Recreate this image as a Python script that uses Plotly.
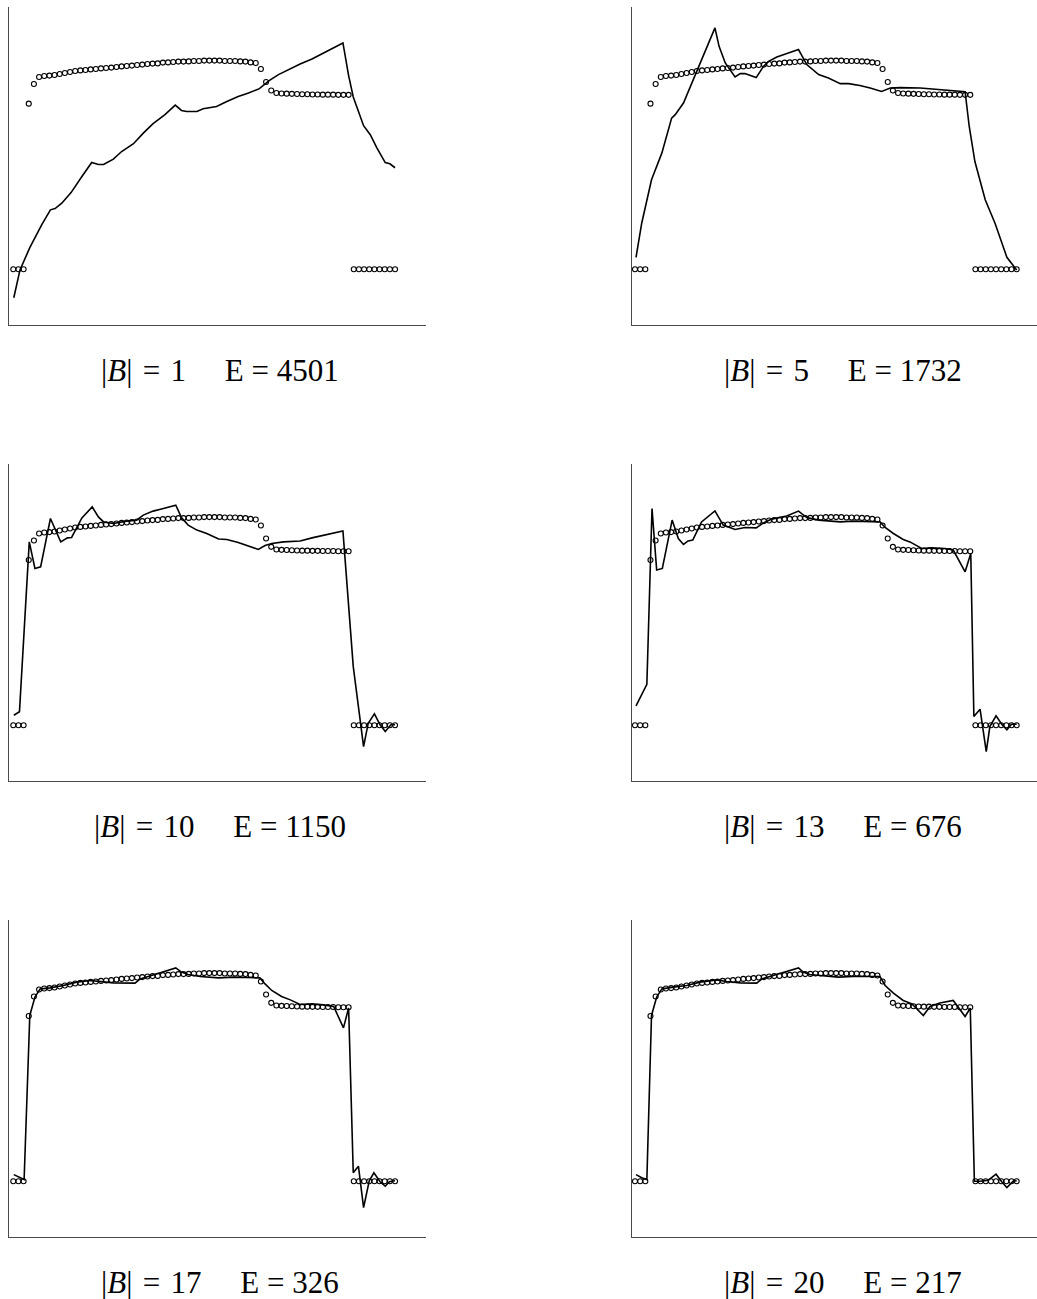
import plotly.graph_objects as go

# Reference signal sampled on 75 points (same in every panel)
TARGET = [
    0.0, 0.0, 0.0, 0.827, 0.925, 0.96, 0.965, 0.967, 0.97, 0.975,
    0.98, 0.985, 0.99, 0.993, 0.995, 0.998, 1.0, 1.003, 1.005, 1.007,
    1.01, 1.013, 1.015, 1.017, 1.02, 1.022, 1.025, 1.027, 1.028, 1.032,
    1.033, 1.035, 1.037, 1.037, 1.038, 1.04, 1.04, 1.042, 1.042, 1.042,
    1.042, 1.04, 1.04, 1.04, 1.038, 1.037, 1.033, 1.03, 1.0, 0.935,
    0.893, 0.88, 0.878, 0.877, 0.876, 0.875, 0.874, 0.874, 0.873, 0.873,
    0.872, 0.872, 0.872, 0.871, 0.871, 0.871, 0.0, 0.0, 0.0, 0.0,
    0.0, 0.0, 0.0, 0.0, 0.0,
]
SAMPLE = list(range(len(TARGET)))

# Number of blocks and error for each approximation
BLOCKS = [1, 5, 10, 13, 17, 20]
ERRORS = [4501, 1732, 1150, 676, 326, 217]

# Approximation curves: vertex positions (sample index) and values
FIT_B1_X = [0.1, 1.3, 3.2, 4.5, 5.5, 7.2, 8.1, 9.4, 11.2, 13.3, 15.2, 16.5, 17.5,
            19.4, 21.0, 23.3, 25.2, 27.1, 29.4, 31.4, 32.6, 33.6, 35.6, 36.8,
            39.4, 41.4, 43.6, 45.6, 47.7, 49.6, 51.4, 55.6, 57.9, 63.9, 65.0,
            65.9, 67.9, 69.2, 70.5, 72.1, 73.0, 74.0]
FIT_B1_Y = [-0.142, -0.003, 0.108, 0.172, 0.222, 0.297, 0.303, 0.33, 0.383, 0.463,
            0.533, 0.523, 0.523, 0.55, 0.588, 0.627, 0.68, 0.727, 0.772, 0.82,
            0.793, 0.788, 0.788, 0.802, 0.813, 0.838, 0.863, 0.88, 0.902, 0.942,
            0.972, 1.025, 1.05, 1.13, 0.967, 0.86, 0.717, 0.672, 0.605, 0.533,
            0.527, 0.507]

FIT_B5_X = [0.2, 1.3, 3.2, 5.2, 7.1, 7.8, 9.4, 11.3, 13.3, 15.5, 16.3, 17.5, 19.4,
            20.4, 21.3, 23.5, 24.9, 25.9, 27.5, 29.4, 31.7, 33.3, 35.6, 37.5,
            39.8, 41.4, 43.6, 45.6, 47.8, 49.5, 51.4, 55.3, 64.0, 64.8, 65.9,
            67.9, 69.8, 72.1, 73.0, 74.0]
FIT_B5_Y = [0.06, 0.23, 0.447, 0.58, 0.755, 0.772, 0.83, 0.947, 1.063, 1.205,
            1.113, 1.03, 0.96, 0.977, 0.977, 0.957, 1.013, 1.038, 1.06, 1.075,
            1.097, 1.022, 0.972, 0.955, 0.927, 0.927, 0.918, 0.905, 0.888, 0.905,
            0.907, 0.905, 0.887, 0.713, 0.538, 0.347, 0.23, 0.06, 0.03, -0.003]

FIT_B10_X = [0.1, 1.2, 3.1, 4.2, 5.3, 7.2, 9.2, 10.5, 11.3, 13.3, 15.3, 16.5, 17.5,
             19.4, 22.0, 23.9, 25.2, 27.1, 29.1, 31.5, 32.6, 33.9, 35.6, 37.5,
             39.8, 41.4, 43.6, 45.6, 47.5, 48.8, 50.1, 52.4, 55.6, 57.9, 61.1,
             63.9, 65.9, 67.9, 68.8, 70.0, 71.1, 72.1, 73.2, 74.0]
FIT_B10_Y = [0.05, 0.067, 0.918, 0.785, 0.793, 1.035, 0.918, 0.938, 0.94, 1.038,
             1.093, 1.043, 1.018, 1.01, 1.022, 1.027, 1.052, 1.072, 1.085, 1.102,
             1.04, 1.002, 0.977, 0.96, 0.932, 0.93, 0.915, 0.897, 0.88, 0.9,
             0.91, 0.918, 0.922, 0.938, 0.955, 0.972, 0.293, -0.107, 0.01, 0.057,
             0.002, -0.032, 0.002, 0.002]

FIT_B13_X = [0.2, 2.3, 3.3, 4.2, 5.3, 7.2, 8.4, 9.4, 10.3, 11.2, 12.9, 15.5, 17.1,
             19.4, 21.3, 23.5, 24.9, 26.5, 29.4, 31.7, 33.3, 35.6, 39.8, 42.3,
             47.5, 48.5, 50.1, 52.0, 53.3, 55.6, 57.5, 60.1, 61.7, 64.0, 65.1,
             65.7, 66.9, 68.1, 68.8, 70.0, 71.1, 72.1, 73.0, 74.0]
FIT_B13_Y = [0.097, 0.205, 1.085, 0.777, 0.785, 1.027, 0.935, 0.905, 0.923, 0.927,
             1.018, 1.073, 1.002, 0.98, 0.99, 0.988, 1.013, 1.032, 1.048, 1.072,
             1.04, 1.027, 1.018, 1.022, 1.018, 0.99, 0.96, 0.93, 0.918, 0.885,
             0.888, 0.885, 0.877, 0.768, 0.86, 0.043, 0.08, -0.132, -0.007, 0.047,
             0.005, -0.023, 0.005, 0.005]

FIT_B17_X = [0.1, 1.2, 2.1, 3.2, 4.2, 5.2, 7.1, 9.7, 12.3, 14.9, 16.8, 19.4, 23.6,
             24.6, 27.1, 31.5, 32.6, 33.9, 36.2, 39.8, 42.7, 47.8, 48.8, 50.1,
             52.0, 53.7, 55.6, 57.9, 60.1, 62.1, 64.0, 65.0, 65.9, 66.9, 67.9,
             69.0, 69.9, 71.1, 72.1, 72.9, 74.0]
FIT_B17_Y = [0.033, 0.017, 0.008, 0.83, 0.922, 0.963, 0.968, 0.98, 0.997, 1.005,
             1.0, 0.993, 0.992, 1.013, 1.033, 1.068, 1.047, 1.035, 1.025, 1.018,
             1.022, 1.018, 0.988, 0.955, 0.925, 0.908, 0.885, 0.888, 0.883, 0.875,
             0.768, 0.867, 0.042, 0.075, -0.132, 0.002, 0.042, -0.003, -0.025,
             -0.003, 0.002]

FIT_B20_X = [0.2, 1.3, 2.3, 3.2, 4.2, 5.2, 7.4, 10.0, 12.6, 15.8, 17.8, 20.4, 23.6,
             24.6, 27.1, 31.7, 32.6, 33.9, 35.9, 39.4, 42.3, 47.5, 48.5, 50.1,
             52.0, 53.7, 55.9, 57.2, 59.1, 61.7, 64.0, 65.0, 65.8, 66.9, 68.5,
             70.0, 71.1, 72.1, 73.3, 74.0]
FIT_B20_Y = [0.033, 0.017, 0.008, 0.83, 0.922, 0.963, 0.972, 0.98, 0.997, 1.008,
             1.0, 0.993, 0.992, 1.013, 1.033, 1.068, 1.047, 1.035, 1.03, 1.022,
             1.025, 1.025, 0.98, 0.942, 0.905, 0.888, 0.83, 0.875, 0.892, 0.905,
             0.825, 0.867, 0.0, 0.0, 0.005, 0.035, -0.003, -0.032, 0.0, 0.002]

FITS = [
    (FIT_B1_X, FIT_B1_Y), (FIT_B5_X, FIT_B5_Y),
    (FIT_B10_X, FIT_B10_Y), (FIT_B13_X, FIT_B13_Y),
    (FIT_B17_X, FIT_B17_Y), (FIT_B20_X, FIT_B20_Y),
]

# ---- page geometry (pixels) ----
W, H = 1037, 1299
COLS = [(9.0, 426.0), (631.7, 1037.0)]           # left/right edges of each column
ROWS = [(7.3, 325.0), (464.0, 780.7), (920.0, 1236.7)]  # top/bottom of each row
X_RANGES = [[-0.83, 80.0], [-0.64, 77.94]]
Y_RANGE = [-0.278, 1.308]
CAPTION_X = [219.5, 842.5]
CAPTION_Y = [370.0, 826.0, 1282.0]

fig = go.Figure()
annotations = []
serif = "Liberation Serif"

for k in range(6):
    r, c = divmod(k, 2)
    n = k + 1
    xa = "x" if n == 1 else f"x{n}"
    ya = "y" if n == 1 else f"y{n}"
    fx, fy = FITS[k]

    fig.add_trace(go.Scatter(
        x=fx, y=fy, mode="lines", xaxis=xa, yaxis=ya,
        line=dict(color="black", width=1.6), showlegend=False,
        hoverinfo="skip",
    ))
    fig.add_trace(go.Scatter(
        x=SAMPLE, y=TARGET, mode="markers", xaxis=xa, yaxis=ya,
        marker=dict(symbol="circle-open", size=5.0, color="black",
                    line=dict(width=1.1, color="black")),
        showlegend=False, hoverinfo="skip", cliponaxis=False,
    ))

    x0, x1 = COLS[c]
    y0, y1 = ROWS[r]
    axis_common = dict(showline=True, linecolor="#4a4a4a", linewidth=1,
                       showgrid=False, zeroline=False, ticks="",
                       showticklabels=False, fixedrange=True)
    fig.layout[f"xaxis{'' if n == 1 else n}"] = dict(
        domain=[x0 / W, x1 / W], range=X_RANGES[c], anchor=ya, **axis_common)
    fig.layout[f"yaxis{'' if n == 1 else n}"] = dict(
        domain=[1 - y1 / H, 1 - y0 / H], range=Y_RANGE, anchor=xa, **axis_common)

    # math-style spacing around the relation in "|B| = n"
    annotations.append(dict(
        xref="paper", yref="paper",
        x=CAPTION_X[c] / W, y=1 - CAPTION_Y[r] / H,
        xanchor="center", yanchor="middle", showarrow=False,
        text=f"|<i>B</i>|\u2004=\u2004{BLOCKS[k]}\u2003 E = {ERRORS[k]}",
        font=dict(family=serif, size=31, color="black"),
    ))

fig.update_layout(
    width=W, height=H, autosize=False,
    margin=dict(l=0, r=0, t=0, b=0),
    paper_bgcolor="white", plot_bgcolor="white",
    annotations=annotations,
)

fig.write_html("out.html", config={"displayModeBar": False})
